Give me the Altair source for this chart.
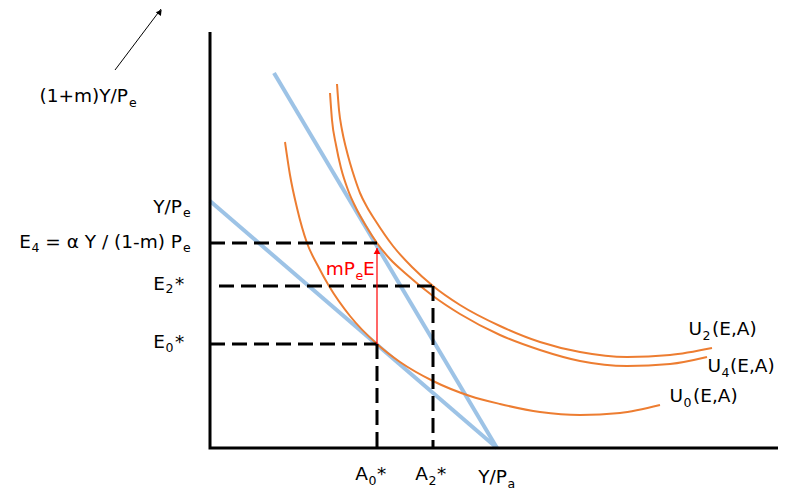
import altair as alt
import pandas as pd

# ---- data (abstract diagram units; origin at the axes' corner) ----
axis_x = [0, 0, 568]
axis_y = [416, 0, 0]

budget0_x = [0, 287]
budget0_y = [247, 0]
budget1_x = [64, 287]
budget1_y = [375, 0]

u0_x = [75, 80, 87, 97, 108, 119, 140, 167, 190, 223, 260, 290, 330, 370, 410, 450]
u0_y = [306, 273, 240, 205, 182, 162, 132, 104, 86, 67, 52, 44, 36, 33, 35, 43]
u4_x = [120, 122, 126, 131, 138, 146, 156, 167, 180, 195, 223, 250, 290, 330, 370, 417, 460, 497]
u4_y = [355, 328, 303, 280, 258, 240, 222, 205, 189, 175, 152, 134, 113, 98, 87, 82, 84, 91]
u2_x = [127, 129, 132, 136, 140, 145, 150, 157, 165, 183, 202, 223, 250, 290, 330, 370, 417, 460, 502]
u2_y = [364, 338, 318, 300, 285, 269, 255, 241, 228, 202, 181, 162, 143, 122, 106, 96, 91, 93, 100]

E4, E2, E0 = 205, 162, 104
A0, A2 = 167, 223

dash_segments = [  # (x1, y1, x2, y2)
    (0, E4, A0, E4),
    (9, E2, A2, E2),
    (A2, E2, A2, 0),
    (0, E0, A0, E0),
    (A0, E0, A0, 0),
]

red_arrow = (A0, E0, A0, 200)
red_head = (A0, 197)
black_arrow = (-95, 378, -49, 439)
black_head = (-50, 436)

# text pieces: text, x, baseline y, align, is_subscript, color
pieces = [
    ("(1+m)Y/P", -82, 346, "right", False, "black"),
    ("e", -81, 341, "left", True, "black"),

    ("Y/P", -28, 235, "right", False, "black"),
    ("e", -27, 231, "left", True, "black"),

    ("E", -179, 200, "right", False, "black"),
    ("4", -178.5, 196, "left", True, "black"),
    ("= α Y / (1-m) P", -28, 200, "right", False, "black"),
    ("e", -27, 196, "left", True, "black"),

    ("E", -45, 158, "right", False, "black"),
    ("2", -44.5, 155, "left", True, "black"),
    ("*", -35, 158, "left", False, "black"),

    ("E", -45, 100, "right", False, "black"),
    ("0", -44.5, 96, "left", True, "black"),
    ("*", -35, 100, "left", False, "black"),

    ("A", 158, -32, "right", False, "black"),
    ("0", 158.5, -37, "left", True, "black"),
    ("*", 167, -32, "left", False, "black"),

    ("A", 218, -32, "right", False, "black"),
    ("2", 218.5, -37, "left", True, "black"),
    ("*", 227, -32, "left", False, "black"),

    ("Y/P", 297, -35, "right", False, "black"),
    ("a", 297.5, -40, "left", True, "black"),

    ("U", 492, 113, "right", False, "black"),
    ("2", 492.5, 108, "left", True, "black"),
    ("(E,A)", 502, 113, "left", False, "black"),

    ("U", 511, 76, "right", False, "black"),
    ("4", 511.5, 71, "left", True, "black"),
    ("(E,A)", 520, 76, "left", False, "black"),

    ("U", 473, 46, "right", False, "black"),
    ("0", 473.5, 41, "left", True, "black"),
    ("(E,A)", 483, 46, "left", False, "black"),

    ("mP", 145, 173, "right", False, "red"),
    ("e", 145.5, 168, "left", True, "red"),
    ("E", 153, 173, "left", False, "red"),
]

# ---- scales ----
X = alt.Scale(domain=[-202, 568], nice=False, zero=False)
Y = alt.Scale(domain=[-43, 440], nice=False, zero=False)

def xy(**kw):
    return dict(x=alt.X("x:Q", scale=X, axis=None), y=alt.Y("y:Q", scale=Y, axis=None), **kw)

def curve(xs, ys):
    return pd.DataFrame({"x": xs, "y": ys, "o": range(len(xs))})

FONT = "DejaVu Sans"
MAIN_SIZE = 18.5
SUB_SIZE = 12.5
BLUE = "#9DC3E6"
ORANGE = "#ED7D31"

layers = []

# blue budget lines
for bx, by in [(budget0_x, budget0_y), (budget1_x, budget1_y)]:
    layers.append(alt.Chart(curve(bx, by)).mark_line(color=BLUE, strokeWidth=4).encode(**xy(order="o:Q")))

# orange indifference curves
for ux, uy in [(u0_x, u0_y), (u4_x, u4_y), (u2_x, u2_y)]:
    layers.append(alt.Chart(curve(ux, uy)).mark_line(color=ORANGE, strokeWidth=2, interpolate="monotone").encode(**xy(order="o:Q")))

# dashed guides
dash_df = pd.DataFrame(dash_segments, columns=["x", "y", "x2", "y2"])
layers.append(alt.Chart(dash_df).mark_rule(color="black", strokeWidth=3, strokeDash=[15, 7]).encode(
    **xy(x2="x2:Q", y2="y2:Q")))

# axes
layers.append(alt.Chart(curve(axis_x, axis_y)).mark_line(color="black", strokeWidth=3, strokeJoin="miter").encode(**xy(order="o:Q")))

# red arrow
ra = pd.DataFrame([red_arrow], columns=["x", "y", "x2", "y2"])
layers.append(alt.Chart(ra).mark_rule(color="#FF0000", strokeWidth=1.2).encode(**xy(x2="x2:Q", y2="y2:Q")))
layers.append(alt.Chart(pd.DataFrame([red_head], columns=["x", "y"])).mark_point(
    shape="triangle-up", filled=True, color="#FF0000", size=45, opacity=1).encode(**xy()))

# black arrow
ba = pd.DataFrame([black_arrow], columns=["x", "y", "x2", "y2"])
layers.append(alt.Chart(ba).mark_rule(color="black", strokeWidth=1).encode(**xy(x2="x2:Q", y2="y2:Q")))
layers.append(alt.Chart(pd.DataFrame([black_head], columns=["x", "y"])).mark_point(
    shape="triangle-up", filled=True, color="black", size=40, opacity=1, angle=37).encode(**xy()))

# labels
lab = pd.DataFrame(pieces, columns=["t", "x", "y", "align", "sub", "color"])
for al in ["left", "right"]:
    for sub in [False, True]:
        for col in ["black", "red"]:
            part = lab[(lab["align"] == al) & (lab["sub"] == sub) & (lab["color"] == col)]
            if len(part) == 0:
                continue
            layers.append(alt.Chart(part).mark_text(
                align=al, baseline="alphabetic", font=FONT,
                fontSize=SUB_SIZE if sub else MAIN_SIZE,
                color="#FF0000" if col == "red" else "black").encode(**xy(text="t:N")))

chart = alt.layer(*layers).properties(
    width=770, height=483, padding=0, autosize=alt.AutoSizeParams(type="none")
).configure_view(stroke=None)

chart.save("out.html", embed_options={"renderer": "svg", "actions": False})
